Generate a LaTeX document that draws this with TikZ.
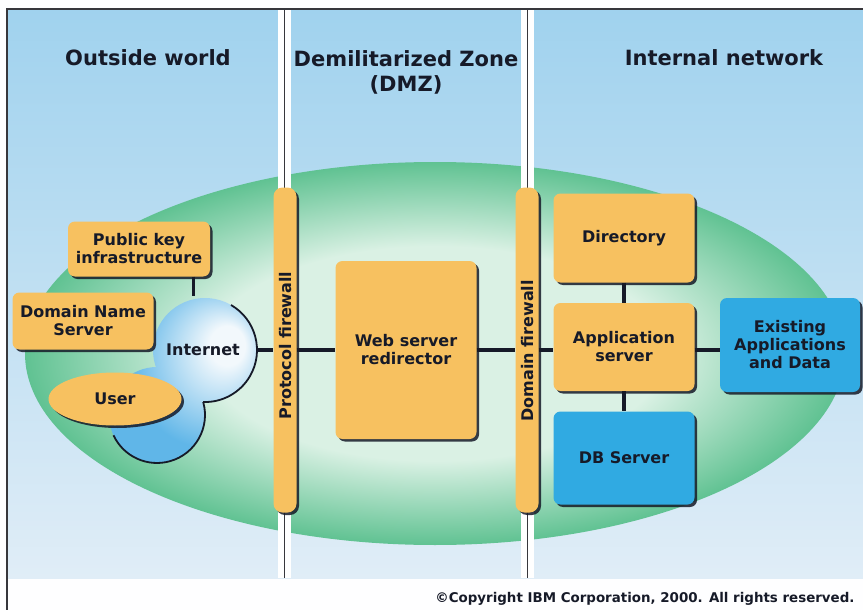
\documentclass[tikz,border=0pt]{standalone}
\usepackage{fontspec}
\setmainfont{DejaVu Sans}
\usetikzlibrary{positioning, shapes.geometric, shadows, calc}

\definecolor{SkyTop}{RGB}{160, 210, 238}
\definecolor{SkyLow}{RGB}{224, 237, 247}
\definecolor{ZoneGreen}{RGB}{96, 194, 146}
\definecolor{ZonePale}{RGB}{218, 241, 228}
\definecolor{TileOrange}{RGB}{247, 193, 96}
\definecolor{TileBlue}{RGB}{48, 170, 226}
\definecolor{CloudBlue}{RGB}{96, 182, 232}
\definecolor{CloudLight}{RGB}{242, 248, 252}
\definecolor{Ink}{RGB}{22, 26, 40}
\definecolor{Edge}{RGB}{55, 55, 60}

\pgfdeclareradialshading{zoneglow}{\pgfpoint{0bp}{0bp}}{color(0bp)=(ZonePale); color(14bp)=(ZonePale); color(25bp)=(ZoneGreen); color(50bp)=(ZoneGreen)}
\pgfdeclareradialshading{cloudglow}{\pgfpoint{17bp}{12bp}}{color(0bp)=(CloudLight); color(6bp)=(CloudLight); color(26bp)=(CloudBlue); color(50bp)=(CloudBlue)}

\begin{document}
\begin{tikzpicture}[x=1pt, y=-1pt,
    every node/.style={font=\bfseries\fontsize{16}{18}\selectfont, text=Ink, align=center},
    heading/.style={font=\bfseries\fontsize{21}{25}\selectfont},
    lifted/.style={drop shadow={shadow xshift=2.5pt, shadow yshift=-2.5pt, opacity=0.85, fill=Ink}},
    tile/.style={fill=TileOrange, rounded corners=7pt, inner sep=0pt, lifted},
    store/.style={tile, fill=TileBlue},
    wall/.style={tile, rounded corners=9pt, minimum width=23pt, minimum height=325pt},
    link/.style={draw=Ink, line width=3.2pt}]
    \useasboundingbox (0,0) rectangle (863,610);

    % Backdrop
    \fill[white!97!SkyLow] (0,0) rectangle (863,610);
    \shade[top color=SkyTop, bottom color=SkyLow] (7,9) rectangle (863,578);
    \shade[shading=zoneglow] (435,353.5) ellipse [x radius=410, y radius=191.5];

    % Zone borders
    \foreach \sx in {284, 527} {
        \fill[white] (\sx-6,9) rectangle (\sx+7,578);
        \draw[Edge, line width=1pt] (\sx,9) -- (\sx,578);
    }
    \draw[Edge, line width=2pt] (863,9) -- (7,9) -- (7,610);

    % Headings
    \node[heading] (outside) at (148,58) {Outside world};
    \node[heading] (dmz) at (406,72) {Demilitarized Zone\\(DMZ)};
    \node[heading] (internal) at (724,58) {Internal network};

    % Outside world
    \shade[shading=cloudglow] (205,350) circle (52) (157,415) circle (48);
    \draw[Ink, line width=1.8pt] (231,305) arc[start angle=-60, end angle=92, radius=52];
    \draw[Ink, line width=1.8pt] (203.2,402) arc[start angle=-15.7, end angle=155, radius=48];
    \node[circle, minimum size=108pt, inner sep=0pt] (inet) at (203,350) {Internet};
    \node[tile, minimum width=142pt, minimum height=55pt] (pki) at (139,249) {Public key\\infrastructure};
    \node[tile, minimum width=141pt, minimum height=57pt] (dns) at (83,321) {Domain Name\\Server};
    \node[ellipse, fill=TileOrange, lifted, minimum width=133pt, minimum height=53pt, inner sep=0pt] (user) at (115,399) {User};

    % DMZ
    \node[wall] (pfw) at (285,350) {};
    \node[rotate=90, anchor=west] (pfwtext) at (286,423) {Protocol firewall};
    \node[tile, minimum width=141pt, minimum height=178pt] (web) at (406,350) {Web server\\redirector};
    \node[wall] (dfw) at (527,350) {};
    \node[rotate=90, anchor=west] (dfwtext) at (528,425) {Domain firewall};

    % Internal network
    \node[tile, minimum width=141pt, minimum height=89pt] (dir) at (624,238) {Directory};
    \node[tile, minimum width=141pt, minimum height=88pt] (app) at (624,347) {Application\\server};
    \node[store, minimum width=141pt, minimum height=93pt] (db) at (624,458) {DB Server};
    \node[store, minimum width=140pt, minimum height=94pt] (data) at (790,345) {Existing\\Applications\\and Data};

    % Links
    \draw[link] (pki.-27) -- (pki.-27 |- inet.north);
    \draw[link] (inet.east) -- (pfw.west);
    \draw[link] (pfw.east) -- (web.west);
    \draw[link] (web.east) -- (dfw.west);
    \draw[link] (dfw.east) -- (dfw.east -| app.west);
    \draw[link] (app.east |- dfw.east) -- (data.west |- dfw.east);
    \draw[link] (dir) -- (app);
    \draw[link] (app) -- (db);

    % Copyright
    \node[font=\bfseries\fontsize{13.4}{15}\selectfont, anchor=east] (copyright) at (858,599) {©Copyright IBM Corporation, 2000. All rights reserved.};
\end{tikzpicture}
\end{document}
